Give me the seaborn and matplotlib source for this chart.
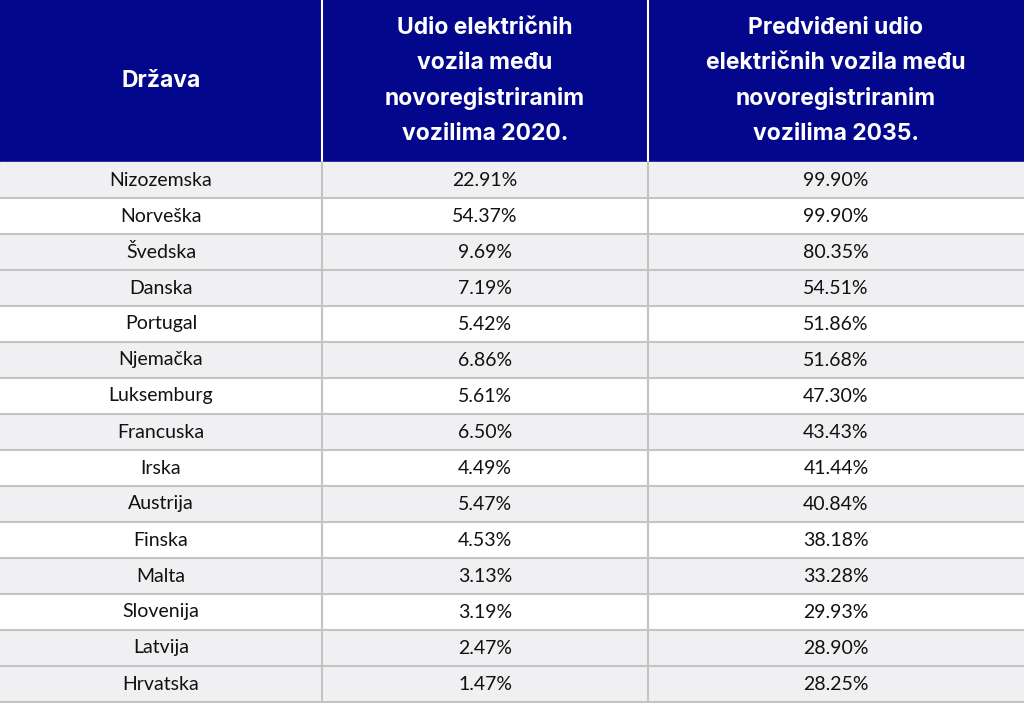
import matplotlib
matplotlib.use("Agg")
import matplotlib.pyplot as plt
import seaborn as sns
from matplotlib.patches import Rectangle

countries = ["Nizozemska", "Norveška", "Švedska", "Danska", "Portugal", "Njemačka",
             "Luksemburg", "Francuska", "Irska", "Austrija", "Finska", "Malta",
             "Slovenija", "Latvija", "Hrvatska"]
share_2020 = [22.91, 54.37, 9.69, 7.19, 5.42, 6.86, 5.61, 6.50, 4.49, 5.47, 4.53, 3.13, 3.19, 2.47, 1.47]
share_2035 = [99.90, 99.90, 80.35, 54.51, 51.86, 51.68, 47.30, 43.43, 41.44, 40.84, 38.18, 33.28, 29.93, 28.90, 28.25]
headers = ["Država",
           "Udio električnih\nvozila među\nnovoregistriranim\nvozilima 2020.",
           "Predviđeni udio\nelektričnih vozila među\nnovoregistriranim\nvozilima 2035."]
row_shaded = [1, 0, 1, 1, 0, 1, 0, 1, 0, 1, 0, 1, 0, 1, 1]

sns.set_style("white")
W, H = 1024, 703
fig = plt.figure(figsize=(W / 100, H / 100), dpi=100)
ax = fig.add_axes([0, 0, 1, 1])
ax.set_xlim(0, W)
ax.set_ylim(H, 0)
ax.axis("off")

col_edges = [0, 322, 648, 1024]
header_h = 162
row_h = 36
navy = "#03078c"
gray_bg = "#f0eff1"
line_c = "#c3c3c3"

ax.add_patch(Rectangle((0, 0), W, header_h, color=navy, zorder=1))
for i, h in enumerate(headers):
    cx = (col_edges[i] + col_edges[i + 1]) / 2
    ax.text(cx, 81, h, color="white", fontsize=16.5, fontweight="bold", family="Inter",
            ha="center", va="center", linespacing=1.75, zorder=3)
for x in col_edges[1:-1]:
    ax.plot([x, x], [0, header_h], color="white", lw=1.5, zorder=2)

for r, (c, a, b) in enumerate(zip(countries, share_2020, share_2035)):
    y0 = header_h + r * row_h
    ax.add_patch(Rectangle((0, y0), W, row_h, color=gray_bg if row_shaded[r] else "white", zorder=1))
    yc = y0 + row_h / 2
    vals = [c, f"{a:.2f}%", f"{b:.2f}%"]
    for i, v in enumerate(vals):
        cx = (col_edges[i] + col_edges[i + 1]) / 2
        ax.text(cx, yc, v, fontsize=14, family="Lato", color="#111111",
                ha="center", va="center", zorder=3)
    ax.plot([0, W], [y0 + row_h, y0 + row_h], color=line_c, lw=1.5, zorder=2)
for x in col_edges[1:-1]:
    ax.plot([x, x], [header_h, H], color=line_c, lw=1.5, zorder=2)

fig.savefig("out.png", dpi=100)
